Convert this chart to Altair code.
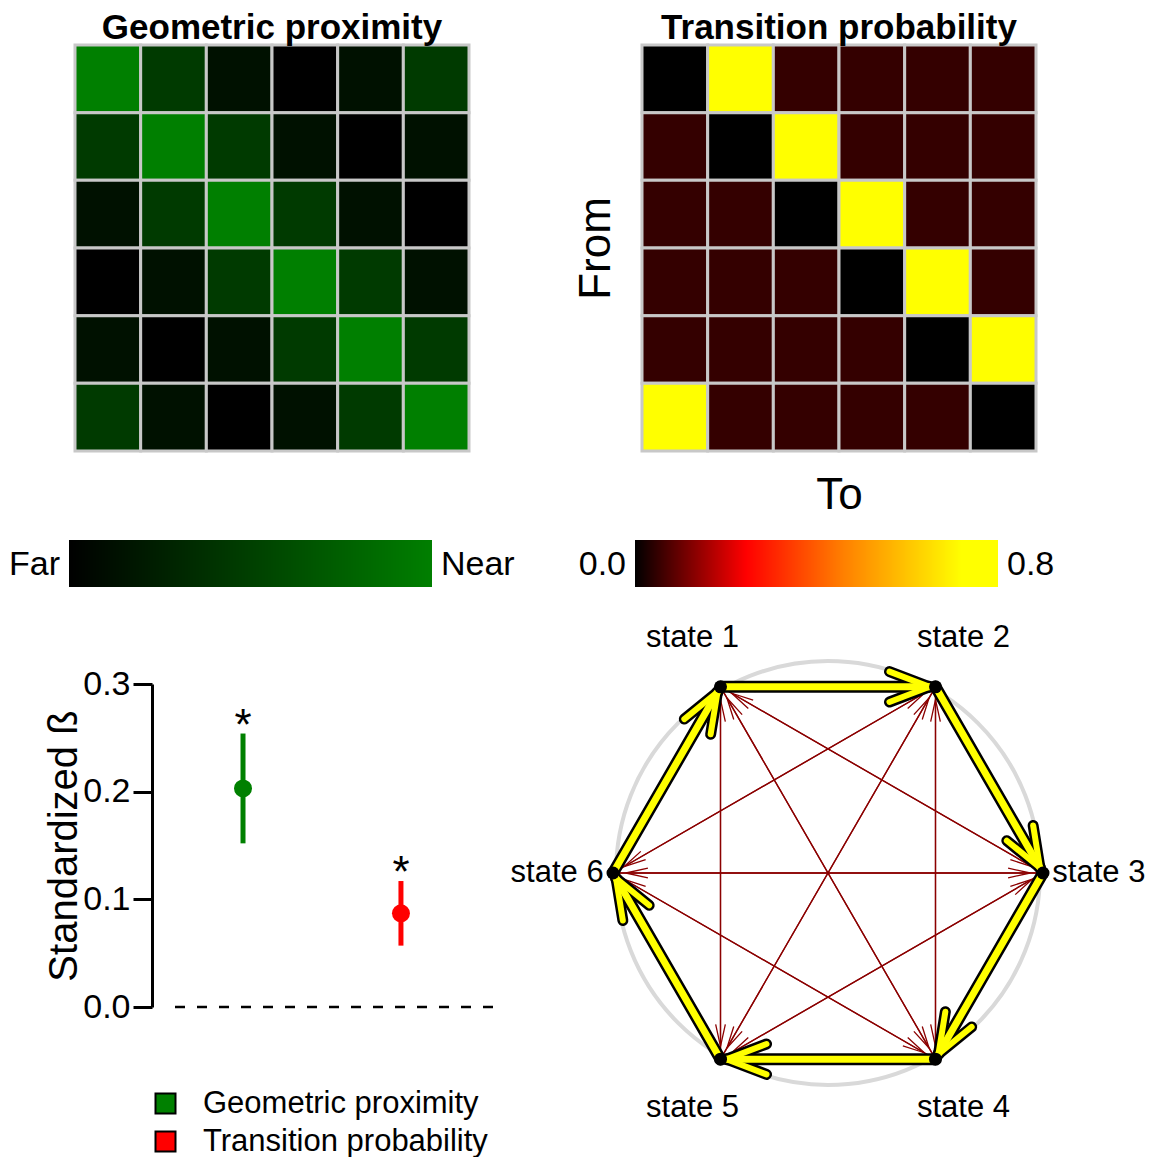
import math
import altair as alt
import numpy as np
import pandas as pd

FONT = "Liberation Sans"

# ---------------- data ----------------
states = ["state 1", "state 2", "state 3", "state 4", "state 5", "state 6"]

geo_prox = [
    [1.00, 0.46, 0.13, 0.00, 0.13, 0.46],
    [0.46, 1.00, 0.46, 0.13, 0.00, 0.13],
    [0.13, 0.46, 1.00, 0.46, 0.13, 0.00],
    [0.00, 0.13, 0.46, 1.00, 0.46, 0.13],
    [0.13, 0.00, 0.13, 0.46, 1.00, 0.46],
    [0.46, 0.13, 0.00, 0.13, 0.46, 1.00],
]

trans_prob = [
    [0.00, 0.80, 0.05, 0.05, 0.05, 0.05],
    [0.05, 0.00, 0.80, 0.05, 0.05, 0.05],
    [0.05, 0.05, 0.00, 0.80, 0.05, 0.05],
    [0.05, 0.05, 0.05, 0.00, 0.80, 0.05],
    [0.05, 0.05, 0.05, 0.05, 0.00, 0.80],
    [0.80, 0.05, 0.05, 0.05, 0.05, 0.00],
]

predictors = ["Geometric proximity", "Transition probability"]
beta = [0.203, 0.087]
ci_low = [0.152, 0.057]
ci_high = [0.254, 0.117]
pred_colors = ["#008000", "#FF0000"]

geo_end_labels = ["Far", "Near"]
geo_end_values = [0.0, 1.0]
heat_end_labels = ["0.0", "0.8"]
heat_end_values = [0.0, 0.8]

# ---------------- scales ----------------
geo_scale = alt.Scale(domain=[0, 1], range=["#000000", "#007F00"], interpolate="rgb")
heat_scale = alt.Scale(domain=[0, 0.245, 0.46, 0.72, 0.8],
                       range=["#000000", "#FF0000", "#FF8000", "#FFFF00", "#FFFF00"],
                       interpolate="rgb")


def matrix_df(m):
    rows = []
    for r in range(6):
        for c in range(6):
            rows.append({"from": r + 1, "to": c + 1, "value": m[r][c]})
    return pd.DataFrame(rows)


def title(text):
    return alt.Title(text, fontSize=35, fontWeight="bold", font=FONT, color="black",
                     anchor="middle", offset=-2)


band = alt.Scale(paddingInner=0, paddingOuter=0)

heat1 = alt.Chart(matrix_df(geo_prox), title=title("Geometric proximity")).mark_rect(
    stroke="#C8C8C8", strokeWidth=3
).encode(
    x=alt.X("to:O", axis=None, scale=band),
    y=alt.Y("from:O", axis=None, scale=band),
    color=alt.Color("value:Q", scale=geo_scale, legend=None),
).properties(width=394, height=406)

heat2 = alt.Chart(matrix_df(trans_prob), title=title("Transition probability")).mark_rect(
    stroke="#C8C8C8", strokeWidth=3
).encode(
    x=alt.X("to:O", scale=band,
            axis=alt.Axis(title="To", labels=False, ticks=False, domain=False, minExtent=0,
                          titleFontSize=44, titleFontWeight="normal", titleColor="black",
                          titleBaseline="alphabetic", titlePadding=57)),
    y=alt.Y("from:O", scale=band,
            axis=alt.Axis(title="From", labels=False, ticks=False, domain=False, minExtent=0,
                          titleFontSize=44, titleFontWeight="normal", titleColor="black",
                          titleBaseline="alphabetic", titlePadding=33)),
    color=alt.Color("value:Q", scale=heat_scale, legend=None),
).properties(width=394, height=406)


# ---------------- colour bars ----------------
BAR_W = 363


def ramp_df(vmax, n=BAR_W):
    edges = np.linspace(0, vmax, n + 1)
    return pd.DataFrame({"v0": edges[:-1], "v1": edges[1:], "vm": (edges[:-1] + edges[1:]) / 2})


def colorbar(vmax, scale, labels, label_values):
    xs = alt.Scale(domain=[0, vmax], nice=False, zero=False)
    ramp = alt.Chart(ramp_df(vmax)).mark_rect().encode(
        x=alt.X("v0:Q", scale=xs, axis=None),
        x2="v1:Q",
        color=alt.Color("vm:Q", scale=scale, legend=None),
    )
    lab_df = pd.DataFrame({"v": label_values, "t": labels})
    left = alt.Chart(lab_df.iloc[[0]]).mark_text(align="right", dx=-9, dy=1, fontSize=34,
                                                 baseline="middle", color="black").encode(
        x=alt.X("v:Q", scale=xs), text="t:N")
    right = alt.Chart(lab_df.iloc[[1]]).mark_text(align="left", dx=9, dy=1, fontSize=34,
                                                  baseline="middle", color="black").encode(
        x=alt.X("v:Q", scale=xs), text="t:N")
    return alt.layer(ramp, left, right).properties(width=BAR_W, height=47)


cbar1 = colorbar(1.0, geo_scale, geo_end_labels, geo_end_values)
cbar2 = colorbar(0.8, heat_scale, heat_end_labels, heat_end_values)

# ---------------- coefficient plot ----------------
coef_df = pd.DataFrame({"predictor": predictors, "beta": beta, "lo": ci_low, "hi": ci_high})
ys = alt.Scale(domain=[0, 0.3], nice=False, zero=False)
xs = alt.Scale(type="point", padding=0.513, align=0.432, domain=predictors)
col = alt.Color(
    "predictor:N", scale=alt.Scale(domain=predictors, range=pred_colors),
    legend=alt.Legend(title=None, orient="none", legendX=-23, legendY=404, symbolType="square",
                      symbolSize=400, symbolStrokeColor="black", symbolStrokeWidth=2,
                      labelFontSize=31, labelFont=FONT, labelColor="black", labelOffset=22,
                      rowPadding=6, padding=0, labelLimit=600))

zero_line = alt.Chart(pd.DataFrame({"y": [0.0]})).mark_rule(
    color="black", strokeWidth=2.5, strokeDash=[10, 12]
).encode(y=alt.Y("y:Q", scale=ys))

yaxis = alt.Axis(values=[0, 0.1, 0.2, 0.3], format=".1f", title="Standardized ß",
                 titleFontSize=40, titleFontWeight="normal", titleColor="black",
                 titleBaseline="alphabetic", titlePadding=6, labelFontSize=34, labelColor="black",
                 labelPadding=3, tickSize=19, tickWidth=3, tickColor="black", domainWidth=3,
                 domainColor="black", offset=21, grid=False, minExtent=0)

bars = alt.Chart(coef_df).mark_bar(size=5).encode(
    x=alt.X("predictor:N", scale=xs, axis=None),
    y=alt.Y("lo:Q", scale=ys, axis=yaxis),
    y2="hi:Q",
    color=col,
)
pts = alt.Chart(coef_df).mark_circle(size=324, opacity=1).encode(
    x=alt.X("predictor:N", scale=xs, axis=None),
    y=alt.Y("beta:Q", scale=ys),
    color=col,
)
stars = alt.Chart(coef_df).mark_text(text="*", fontSize=44, baseline="alphabetic", dy=6,
                                     color="black").encode(
    x=alt.X("predictor:N", scale=xs, axis=None),
    y=alt.Y("hi:Q", scale=ys),
)
coef = alt.layer(zero_line, bars, pts, stars).properties(width=320, height=323)

# ---------------- network ----------------
n = len(states)
start_deg = 120.0
ang = [math.radians(start_deg - 360.0 / n * i) for i in range(n)]
node_r, label_r = 1.0, 1.26
nodes = pd.DataFrame({
    "state": states,
    "x": [node_r * math.cos(a) for a in ang],
    "y": [node_r * math.sin(a) for a in ang],
    "lx": [label_r * math.cos(a) for a in ang],
    "ly": [label_r * math.sin(a) for a in ang],
})

edges = []
for i in range(n):
    for j in range(n):
        p = trans_prob[i][j]
        if i == j or p <= 0:
            continue
        x1, y1 = nodes.x[i], nodes.y[i]
        x2, y2 = nodes.x[j], nodes.y[j]
        dx, dy = x2 - x1, y2 - y1
        L = math.hypot(dx, dy)
        strong = p >= 0.5
        off = 0.028 if strong else 0.06
        tx, ty = x2 - dx / L * off, y2 - dy / L * off
        edges.append({"x1": x1, "y1": y1, "x2": x2, "y2": y2, "tx": tx, "ty": ty,
                      "ang": (math.degrees(math.atan2(dx, dy)) + 360) % 360,
                      "p": p, "strong": strong})
edges = pd.DataFrame(edges)
weak = edges[~edges.strong]
strong = edges[edges.strong]

nx = alt.Scale(domain=[-1.06977, 1.06977], nice=False, zero=False)
ny = alt.Scale(domain=[-0.87907, 0.87907], nice=False, zero=False)
THIN_HEAD = "M -0.22 1 L 0 0 L 0.22 1"
BIG_HEAD = "M -0.38 1 L 0 0 L 0.38 1"

ring = alt.Chart(pd.DataFrame({"x": [0.0], "y": [0.0]})).mark_point(
    shape="circle", size=424 ** 2, filled=False, stroke="#D9D9D9", strokeWidth=4, opacity=1
).encode(x=alt.X("x:Q", scale=nx, axis=None), y=alt.Y("y:Q", scale=ny, axis=None))

weak_lines = alt.Chart(weak).mark_rule(color="#8B0000", strokeWidth=1.3).encode(
    x=alt.X("x1:Q", scale=nx, axis=None), y=alt.Y("y1:Q", scale=ny, axis=None),
    x2="x2:Q", y2="y2:Q")
weak_heads = alt.Chart(weak).mark_point(
    shape=THIN_HEAD, size=1936, filled=False, stroke="#8B0000", strokeWidth=1.3, opacity=1
).encode(x=alt.X("tx:Q", scale=nx, axis=None), y=alt.Y("ty:Q", scale=ny, axis=None),
         angle=alt.Angle("ang:Q", scale=None))


def strong_layer(color, lw, hw):
    line = alt.Chart(strong).mark_rule(color=color, strokeWidth=lw, strokeCap="round").encode(
        x=alt.X("x1:Q", scale=nx, axis=None), y=alt.Y("y1:Q", scale=ny, axis=None),
        x2="tx:Q", y2="ty:Q")
    head = alt.Chart(strong).mark_point(
        shape=BIG_HEAD, size=6400, filled=False, stroke=color, strokeWidth=hw, opacity=1,
        strokeCap="round", strokeJoin="round"
    ).encode(x=alt.X("tx:Q", scale=nx, axis=None), y=alt.Y("ty:Q", scale=ny, axis=None),
             angle=alt.Angle("ang:Q", scale=None))
    return line, head


bl, bh = strong_layer("black", 12, 11)
yl, yh = strong_layer("#FFFF00", 7, 6)

node_pts = alt.Chart(nodes).mark_circle(size=169, color="black", opacity=1).encode(
    x=alt.X("x:Q", scale=nx, axis=None), y=alt.Y("y:Q", scale=ny, axis=None))
node_lab = alt.Chart(nodes).mark_text(fontSize=31, color="black", baseline="middle").encode(
    x=alt.X("lx:Q", scale=nx, axis=None), y=alt.Y("ly:Q", scale=ny, axis=None), text="state:N")

network = alt.layer(ring, weak_lines, weak_heads, bl, bh, yl, yh, node_pts, node_lab).properties(
    width=460, height=378)


# ---------------- layout ----------------
def spacer(w, h):
    return alt.Chart(pd.DataFrame({"s": [0]})).mark_point(opacity=0, size=0).encode(
        x=alt.value(0), y=alt.value(0)).properties(width=w, height=h)


def row(*charts):
    return alt.hconcat(*charts, spacing=0, bounds="flush").resolve_scale(color="independent")


row1 = row(spacer(67, 406), heat1, spacer(173, 406), heat2)
row2 = row(spacer(61, 59), cbar1, spacer(203, 47), cbar2)
row3 = row(spacer(165, 323), coef, spacer(105, 323), network)

chart = alt.vconcat(row1, row2, row3, spacing=23).resolve_scale(
    color="independent"
).properties(padding={"top": 2, "left": 0, "right": 0, "bottom": 0}).configure(
    font=FONT).configure_view(stroke=None)

chart.save("out.html", embed_options={"renderer": "svg", "actions": False})
